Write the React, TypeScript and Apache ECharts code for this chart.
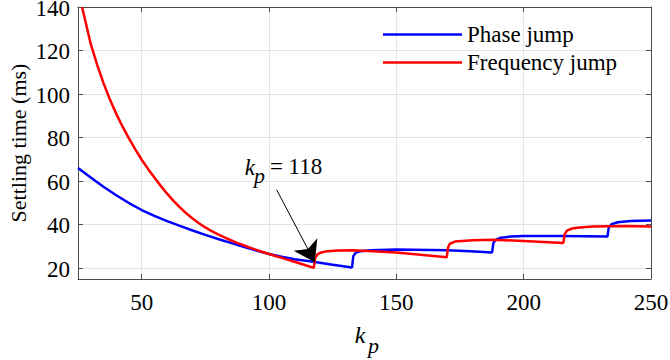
import React, { useEffect, useRef } from 'react';
import * as echarts from 'echarts';

// Phase jump series (k_p, settling time in ms)
const kPhase = [25, 30, 35, 40, 45, 50, 55, 60, 65, 70, 75, 80, 85, 90, 95, 100, 105, 110, 117.4, 125, 132.6, 133.1, 134, 136, 140, 150, 170, 179, 187.6, 188.1, 189, 191, 195, 200, 215, 232.9, 233.4, 234.5, 237, 242, 250];
const tPhase = [66, 61.6, 57.4, 53.5, 49.9, 46.7, 44, 41.6, 39.4, 37.3, 35.3, 33.4, 31.6, 29.8, 28.1, 26.5, 25.2, 24.1, 22.9, 21.6, 20.3, 25.5, 27, 27.8, 28.2, 28.5, 28.2, 27.8, 27.2, 31.5, 33, 34, 34.5, 34.8, 34.8, 34.5, 38.5, 40.2, 41.1, 41.6, 41.9];

// Frequency jump series
const kFreq = [26.6, 27.5, 30, 32.5, 35, 37.5, 40, 42.5, 45, 47.5, 50, 52.5, 55, 57.5, 60, 62.5, 65, 67.5, 70, 72.5, 75, 77.5, 80, 82.5, 85, 87.5, 90, 92.5, 95, 97.5, 100, 102.5, 105, 107.5, 110, 112.5, 115, 117.6, 118.1, 119, 120.5, 123, 127, 133, 150, 169.8, 170.3, 171, 173, 180, 188, 200, 215.6, 216.1, 217, 219, 222, 227, 240, 250];
const tFreq = [140, 135.5, 123, 113.5, 105, 97.6, 91, 85, 79.6, 74.6, 69.8, 65.6, 61.6, 57.8, 54.2, 50.9, 47.9, 45.2, 42.8, 40.6, 38.7, 37, 35.5, 34.1, 32.8, 31.6, 30.5, 29.4, 28.4, 27.4, 26.5, 25.6, 24.7, 23.8, 22.9, 22, 21.1, 20.1, 24.5, 26.3, 27.2, 27.8, 28.1, 28.2, 27.2, 25, 29.5, 31.2, 32.2, 32.8, 33, 32.5, 31.6, 35.5, 37.2, 38.2, 38.7, 39.1, 39.3, 39.1];

const seriesNames = ['Phase jump', 'Frequency jump'];
const xTicks = [50, 100, 150, 200, 250];
const yTicks = [20, 40, 60, 80, 100, 120, 140];
const xRange = [25, 250];
const yRange = [15, 140];
const yTitle = 'Settling time (ms)';
const xTitleMain = 'k';
const xTitleSub = 'p';

// annotation
const arrowFrom = [103, 56];
const arrowTo = [118, 22.7];
const notePos = [92.5, 66.3];
const noteText = '= 118';

const FONT = 'Times New Roman';
const AXIS_COLOR = '#4d4d4d';

let measureCtx: CanvasRenderingContext2D | null = null;
const measure = (text: string, size: number, italic: boolean) => {
  if (!measureCtx) measureCtx = document.createElement('canvas').getContext('2d');
  if (!measureCtx) return text.length * size * 0.5;
  measureCtx.font = (italic ? 'italic ' : '') + size + 'px "' + FONT + '"';
  return measureCtx.measureText(text).width;
};

// plain text element; x/y is the top-left of the text box
const textEl = (x: number, y: number, text: string, size: number, italic = false, rotation = 0) => {
  const style: any = { text, fontFamily: FONT, fontSize: size, fill: '#000' };
  if (italic) style.fontStyle = 'italic';
  const el: any = { type: 'text', x, y, style };
  if (rotation) el.rotation = rotation;
  return el;
};

export default function App() {
  const ref = useRef<HTMLDivElement>(null);
  useEffect(() => {
    if (!ref.current) return;
    const chart = echarts.init(ref.current, undefined, { renderer: 'svg' });
    const axisLine = { show: true, onZero: false, lineStyle: { color: AXIS_COLOR, width: 1 } };
    const phaseData = kPhase.map((k, i) => [k, tPhase[i]]);
    const freqData = kFreq.map((k, i) => [k, tFreq[i]]);
    const boxAxis = (ticks: number[], range: number[], position: string) => ({
      type: 'value',
      min: range[0],
      max: range[1],
      position,
      axisLine,
      axisTick: { show: true, inside: true, length: 5, customValues: ticks, lineStyle: { color: AXIS_COLOR } },
      axisLabel: { show: false },
      splitLine: { show: false },
    });
    const option: any = {
      animation: false,
      textStyle: { fontFamily: FONT },
      grid: { left: 78, right: 19, top: 7, bottom: 81 },
      legend: {
        orient: 'vertical',
        left: 383,
        top: 23,
        padding: 0,
        icon: 'rect',
        itemWidth: 79,
        itemHeight: 2.5,
        itemGap: 5,
        data: seriesNames,
        textStyle: { fontFamily: FONT, fontSize: 23, color: '#000', lineHeight: 23 },
      },
      xAxis: [
        {
          ...boxAxis(xTicks, xRange, 'bottom'),
          splitLine: { show: true, lineStyle: { color: '#e4e4e4', width: 1 } },
        },
        boxAxis(xTicks, xRange, 'top'),
      ],
      yAxis: [
        {
          ...boxAxis(yTicks, yRange, 'left'),
          splitLine: { show: true, lineStyle: { color: '#e4e4e4', width: 1 } },
        },
        boxAxis(yTicks, yRange, 'right'),
      ],
      series: [
        {
          name: seriesNames[0],
          type: 'line',
          data: phaseData,
          symbol: 'none',
          lineStyle: { color: '#0000ff', width: 2.5 },
          itemStyle: { color: '#0000ff' },
          z: 3,
        },
        {
          name: seriesNames[1],
          type: 'line',
          data: freqData,
          symbol: 'none',
          lineStyle: { color: '#ff0000', width: 2.5 },
          itemStyle: { color: '#ff0000' },
          z: 4,
          markLine: {
            silent: true,
            symbol: ['none', 'arrow'],
            symbolSize: 20,
            label: { show: false },
            lineStyle: { color: '#000', width: 1, type: 'solid' },
            data: [[{ coord: arrowFrom }, { coord: arrowTo }]],
          },
        },
      ],
    };
    chart.setOption(option);

    // Axis labels, titles and annotation text, placed through the axes' own scales
    const px = (x: number, y: number) => chart.convertToPixel({ xAxisIndex: 0, yAxisIndex: 0 }, [x, y]) as number[];
    const [left, bottom] = px(xRange[0], yRange[0]);
    const [right, top] = px(xRange[1], yRange[1]);
    const xMid = (left + right) / 2;
    const yMid = (top + bottom) / 2;
    const els: any[] = [];
    const TICK = 23;
    xTicks.forEach((v) => {
      const [x] = px(v, yRange[0]);
      const w = measure(String(v), TICK, false);
      els.push(textEl(x - w / 2, bottom + 23 - TICK / 2, String(v), TICK));
    });
    yTicks.forEach((v) => {
      const [, y] = px(xRange[0], v);
      const w = measure(String(v), TICK, false);
      els.push(textEl(left - 8 - w, y + 1 - TICK / 2, String(v), TICK));
    });
    // rotated y title centred at (left - 60, yMid)
    const TS = 22;
    const wt = measure(yTitle, TS, false);
    els.push(textEl(left - 60 - TS / 2, yMid + wt / 2, yTitle, TS, false, Math.PI / 2));
    // x title k_p
    const wk = measure(xTitleMain, 24, true);
    els.push(textEl(xMid - 4.5 - wk / 2, bottom + 56 - 12, xTitleMain, 24, true));
    els.push(textEl(xMid + 3.5, bottom + 66 - 11, xTitleSub, 22, true));
    // annotation k_p = 118
    const [nx, ny] = px(notePos[0], notePos[1]);
    const wk2 = measure('k', 23, true);
    els.push(textEl(nx - wk2 / 2, ny - 11.5, 'k', 23, true));
    els.push(textEl(nx + 4, ny + 8 - 11, 'p', 22, true));
    els.push(textEl(nx + 20, ny - 1 - 11.5, noteText, 23));
    chart.setOption({ graphic: els });

    return () => chart.dispose();
  }, []);
  return <div ref={ref} style={{ position: 'fixed', left: 0, top: 0, width: 670, height: 360, background: '#fff' }} />;
}
